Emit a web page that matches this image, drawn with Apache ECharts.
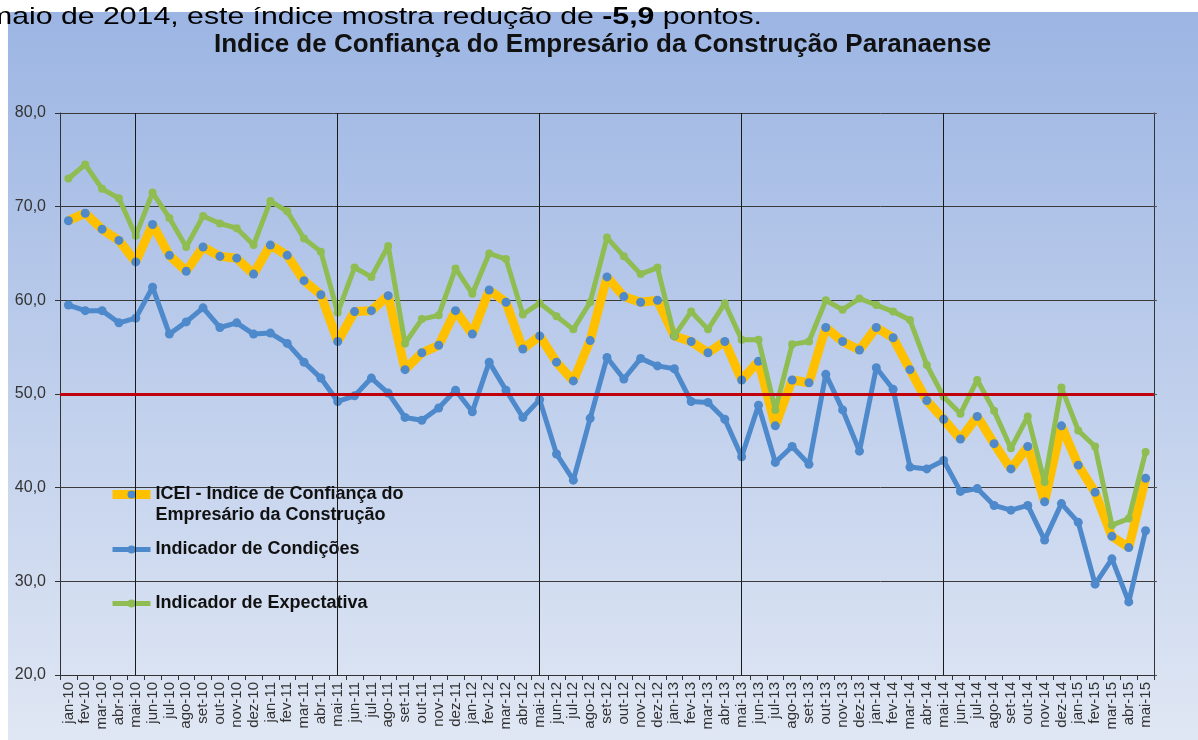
<!DOCTYPE html>
<html>
<head>
<meta charset="utf-8">
<title>ICEI Paraná</title>
<script src="https://cdn.jsdelivr.net/npm/echarts@6/dist/echarts.min.js"></script>
<style>
  html, body { margin: 0; padding: 0; background: #fff; }
  #main { width: 1198px; height: 740px; }
</style>
</head>
<body>
<div id="main"></div>
<script>
var categories = [
    'jan-10','fev-10','mar-10','abr-10','mai-10','jun-10','jul-10','ago-10','set-10','out-10','nov-10','dez-10',
    'jan-11','fev-11','mar-11','abr-11','mai-11','jun-11','jul-11','ago-11','set-11','out-11','nov-11','dez-11',
    'jan-12','fev-12','mar-12','abr-12','mai-12','jun-12','jul-12','ago-12','set-12','out-12','nov-12','dez-12',
    'jan-13','fev-13','mar-13','abr-13','mai-13','jun-13','jul-13','ago-13','set-13','out-13','nov-13','dez-13',
    'jan-14','fev-14','mar-14','abr-14','mai-14','jun-14','jul-14','ago-14','set-14','out-14','nov-14','dez-14',
    'jan-15','fev-15','mar-15','abr-15','mai-15'
];

var iceiValues = [
    68.5, 69.3, 67.6, 66.4, 64.1, 68.1, 64.8, 63.1, 65.7, 64.7,
    64.5, 62.8, 65.9, 64.8, 62.1, 60.6, 55.6, 58.8, 58.9, 60.5,
    52.6, 54.4, 55.2, 58.9, 56.4, 61.1, 59.8, 54.8, 56.2, 53.4,
    51.4, 55.7, 62.5, 60.4, 59.8, 60.0, 56.2, 55.6, 54.4, 55.6,
    51.5, 53.5, 46.6, 51.5, 51.2, 57.1, 55.6, 54.7, 57.1, 56.0,
    52.6, 49.3, 47.3, 45.2, 47.6, 44.7, 42.0, 44.4, 38.5, 46.6,
    42.4, 39.5, 34.8, 33.6, 41.0
];

var condicoesValues = [
    59.5, 58.9, 58.9, 57.6, 58.1, 61.4, 56.4, 57.7, 59.2, 57.1,
    57.6, 56.4, 56.5, 55.4, 53.4, 51.7, 49.2, 49.8, 51.7, 50.1,
    47.5, 47.2, 48.5, 50.4, 48.1, 53.4, 50.4, 47.5, 49.4, 43.6,
    40.8, 47.4, 53.9, 51.6, 53.8, 53.0, 52.7, 49.2, 49.1, 47.3,
    43.3, 48.8, 42.7, 44.4, 42.5, 52.1, 48.3, 43.9, 52.8, 50.5,
    42.2, 42.0, 42.9, 39.6, 39.9, 38.1, 37.6, 38.1, 34.4, 38.3,
    36.3, 29.7, 32.4, 27.8, 35.4
];

var expectativaValues = [
    73.0, 74.5, 71.9, 70.9, 66.9, 71.5, 68.8, 65.7, 69.0, 68.2,
    67.7, 65.9, 70.6, 69.5, 66.6, 65.2, 58.7, 63.5, 62.5, 65.8,
    55.4, 58.0, 58.4, 63.4, 60.7, 65.0, 64.4, 58.5, 59.7, 58.3,
    56.9, 59.8, 66.7, 64.7, 62.8, 63.5, 56.2, 58.8, 56.9, 59.7,
    55.8, 55.8, 48.3, 55.3, 55.6, 60.0, 59.0, 60.2, 59.5, 58.8,
    57.9, 53.1, 49.7, 47.9, 51.5, 48.2, 44.2, 47.6, 40.6, 50.7,
    46.1, 44.4, 36.0, 36.7, 43.8
];

var yearMarks = ['mai-10', 'mai-11', 'mai-12', 'mai-13', 'mai-14'];
var referenceLevel = 50;

var seriesNames = [
    'ICEI - Indice de Confiança do\nEmpresário da Construção',
    'Indicador de Condições',
    'Indicador de Expectativa'
];

(function(){
    var myChart = echarts.init(document.getElementById('main'), null, {renderer: 'canvas'});
    var font = 'Arial, "Liberation Sans", sans-serif';
    var blue = '#4d89cb';
    var legendText = {
        color: '#111',
        fontSize: 18,
        fontWeight: 'bold',
        fontFamily: font,
        lineHeight: 21
    };

    // one legend per item so the vertical gaps can differ like in the original
    function makeLegend(name, left, top, twoLines){
        return {
            data: [name],
            left: left,
            top: top,
            padding: 0,
            itemWidth: 38,
            itemHeight: 10,
            selectedMode: false,
            lineStyle: {width: 'inherit'},
            // blank line above keeps the icon level with the first text line
            formatter: twoLines ? function(n){ return ' \n' + n; } : null,
            textStyle: legendText
        };
    }

    var option = {
        animation: false,
        backgroundColor: '#ffffff',
        graphic: [
            {
                type: 'rect',
                z: -10,
                silent: true,
                shape: {x: 8, y: 12, width: 1190, height: 728},
                style: {
                    fill: new echarts.graphic.LinearGradient(0, 0, 0, 1, [
                        {offset: 0, color: '#9cb5e3'},
                        {offset: 1, color: '#e0e7f4'}
                    ])
                }
            },
            {
                type: 'text',
                x: -13,
                y: 5,
                scaleX: 1.26,
                z: 10,
                style: {
                    text: 'maio de 2014, este índice mostra redução de {b|-5,9} pontos.',
                    font: '24px Arial, "Liberation Sans", sans-serif',
                    fill: '#000',
                    rich: {
                        b: {fontWeight: 'bold', fontSize: 24, fontFamily: font, fill: '#000'}
                    }
                }
            }
        ],
        title: {
            text: 'Indice de Confiança do Empresário da Construção Paranaense',
            left: 214,
            top: 30,
            padding: 0,
            textStyle: {
                color: '#111',
                fontSize: 26,
                fontWeight: 'bold',
                fontFamily: font,
                lineHeight: 30
            }
        },
        legend: [
            makeLegend(seriesNames[0], 108, 463, true),
            makeLegend(seriesNames[1], 110, 539, false),
            makeLegend(seriesNames[2], 110, 593, false)
        ],
        grid: {
            left: 60,
            right: 44,
            top: 113,
            bottom: 65
        },
        xAxis: {
            type: 'category',
            data: categories,
            boundaryGap: true,
            axisLine: {lineStyle: {color: '#333', width: 1}},
            axisTick: {show: true, interval: 0, length: 5, lineStyle: {color: '#333'}},
            axisLabel: {
                interval: 0,
                rotate: 90,
                margin: 7,
                color: '#333',
                fontSize: 15,
                fontFamily: font
            },
            splitLine: {show: false}
        },
        yAxis: [
            {
                type: 'value',
                min: 20,
                max: 80,
                interval: 10,
                axisLine: {show: true, lineStyle: {color: '#333'}},
                axisTick: {show: true, length: 5, lineStyle: {color: '#333'}},
                axisLabel: {
                    margin: 14,
                    color: '#333',
                    fontSize: 16,
                    fontFamily: font,
                    formatter: function(v){ return v.toFixed(1).replace('.', ','); }
                },
                splitLine: {show: true, lineStyle: {color: '#3a3a3a', width: 1}}
            },
            {
                type: 'value',
                position: 'right',
                min: 20,
                max: 80,
                interval: 10,
                axisLine: {show: true, lineStyle: {color: '#333'}},
                axisTick: {show: true, length: 3, lineStyle: {color: '#555'}},
                axisLabel: {show: false},
                splitLine: {show: false}
            }
        ],
        series: [
            {
                name: seriesNames[0],
                type: 'line',
                data: iceiValues,
                symbol: 'circle',
                symbolSize: 9,
                lineStyle: {color: '#ffc000', width: 9},
                itemStyle: {color: blue},
                emphasis: {disabled: true},
                z: 2,
                markLine: {
                    silent: true,
                    symbol: 'none',
                    label: {show: false},
                    lineStyle: {color: '#1a1a1a', width: 1, type: 'solid'},
                    data: yearMarks.map(function(m){ return {xAxis: m}; })
                }
            },
            {
                name: seriesNames[1],
                type: 'line',
                data: condicoesValues,
                symbol: 'circle',
                symbolSize: 9,
                lineStyle: {color: blue, width: 5},
                itemStyle: {color: blue},
                emphasis: {disabled: true},
                z: 3,
                markLine: {
                    silent: true,
                    symbol: 'none',
                    label: {show: false},
                    lineStyle: {color: '#c0000a', width: 3, type: 'solid'},
                    data: [{yAxis: referenceLevel}]
                }
            },
            {
                name: seriesNames[2],
                type: 'line',
                data: expectativaValues,
                symbol: 'circle',
                symbolSize: 8,
                lineStyle: {color: '#8fbd52', width: 5},
                itemStyle: {color: '#8fbd52'},
                emphasis: {disabled: true},
                z: 4
            }
        ]
    };

    myChart.setOption(option);
})();
</script>
</body>
</html>
